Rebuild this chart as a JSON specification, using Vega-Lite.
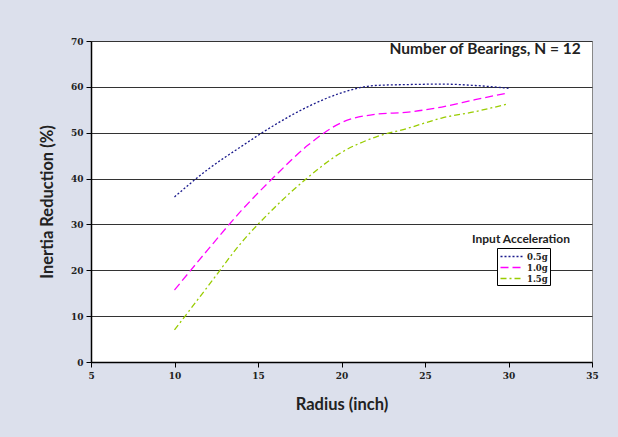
{
  "$schema": "https://vega.github.io/schema/vega-lite/v6.json",
  "width": 501,
  "height": 321,
  "autosize": {"type": "none"},
  "padding": {"left": 91, "top": 41, "right": 26, "bottom": 75},
  "background": "#DCE0EC",
  "config": {
    "view": {"fill": "white", "stroke": "#888888", "strokeWidth": 1},
    "axis": {
      "labelFont": "DejaVu Serif",
      "labelFontWeight": "bold",
      "labelFontSize": 9,
      "labelColor": "#222222",
      "titleFont": "Lato",
      "titleFontWeight": "bold",
      "titleFontSize": 16.5,
      "titleColor": "#222222",
      "domainColor": "#000000",
      "domainWidth": 1.5,
      "tickColor": "#000000",
      "tickSize": 5
    },
    "legend": {
      "orient": "none", "legendX": 406, "legendY": 207,
      "strokeColor": "#000000",
      "fillColor": "white",
      "padding": 2,
      "symbolType": "M-2,0H2",
      "symbolSize": 121,
      "symbolOffset": 6,
      "symbolStrokeWidth": 1.3,
      "labelFont": "DejaVu Serif",
      "labelFontWeight": "bold",
      "labelFontSize": 8.5,
      "labelColor": "#222222",
      "rowPadding": 0,
      "labelOffset": 9
    }
  },
  "datasets": {
    "series": [
      {"radius": 10, "reduction": 36.0, "accel": "0.5g"},
      {"radius": 12, "reduction": 42.0, "accel": "0.5g"},
      {"radius": 14, "reduction": 47.0, "accel": "0.5g"},
      {"radius": 16, "reduction": 51.7, "accel": "0.5g"},
      {"radius": 18, "reduction": 55.7, "accel": "0.5g"},
      {"radius": 20, "reduction": 58.7, "accel": "0.5g"},
      {"radius": 22, "reduction": 60.3, "accel": "0.5g"},
      {"radius": 24, "reduction": 60.5, "accel": "0.5g"},
      {"radius": 26, "reduction": 60.6, "accel": "0.5g"},
      {"radius": 28, "reduction": 60.3, "accel": "0.5g"},
      {"radius": 30, "reduction": 59.7, "accel": "0.5g"},
      {"radius": 10, "reduction": 15.7, "accel": "1.0g"},
      {"radius": 12, "reduction": 24.5, "accel": "1.0g"},
      {"radius": 14, "reduction": 33.0, "accel": "1.0g"},
      {"radius": 16, "reduction": 40.5, "accel": "1.0g"},
      {"radius": 18, "reduction": 47.3, "accel": "1.0g"},
      {"radius": 20, "reduction": 52.2, "accel": "1.0g"},
      {"radius": 22, "reduction": 54.0, "accel": "1.0g"},
      {"radius": 24, "reduction": 54.5, "accel": "1.0g"},
      {"radius": 26, "reduction": 55.6, "accel": "1.0g"},
      {"radius": 28, "reduction": 57.2, "accel": "1.0g"},
      {"radius": 30, "reduction": 58.7, "accel": "1.0g"},
      {"radius": 10, "reduction": 7.0, "accel": "1.5g"},
      {"radius": 12, "reduction": 16.5, "accel": "1.5g"},
      {"radius": 14, "reduction": 26.0, "accel": "1.5g"},
      {"radius": 16, "reduction": 33.7, "accel": "1.5g"},
      {"radius": 18, "reduction": 40.3, "accel": "1.5g"},
      {"radius": 20, "reduction": 45.7, "accel": "1.5g"},
      {"radius": 22, "reduction": 49.0, "accel": "1.5g"},
      {"radius": 24, "reduction": 51.0, "accel": "1.5g"},
      {"radius": 26, "reduction": 53.2, "accel": "1.5g"},
      {"radius": 28, "reduction": 54.6, "accel": "1.5g"},
      {"radius": 30, "reduction": 56.3, "accel": "1.5g"}
    ],
    "notes": [
      {"radius": 28.6, "reduction": 68.25, "label": "Number of Bearings, N = 12", "size": 15.5},
      {"radius": 30.75, "reduction": 26.8, "label": "Input Acceleration", "size": 12}
    ]
  },
  "layer": [
    {
      "data": {"name": "series"},
      "mark": {"type": "line", "interpolate": "monotone", "strokeWidth": 1.3, "clip": false},
      "encoding": {
        "x": {
          "field": "radius", "type": "quantitative",
          "scale": {"domain": [5, 35], "nice": false, "zero": false},
          "axis": {"values": [5, 10, 15, 20, 25, 30, 35], "grid": false, "title": "Radius (inch)", "titlePadding": 16, "labelPadding": 4, "labelFlush": false}
        },
        "y": {
          "field": "reduction", "type": "quantitative",
          "scale": {"domain": [0, 70], "nice": false},
          "axis": {"values": [0, 10, 20, 30, 40, 50, 60, 70], "grid": true, "gridColor": "#333333", "gridWidth": 1.2, "title": "Inertia Reduction (%)", "titlePadding": 15, "labelPadding": 3, "labelFlush": false}
        },
        "color": {
          "field": "accel", "type": "nominal",
          "scale": {"domain": ["0.5g", "1.0g", "1.5g"], "range": ["#1a1a8c", "#FF00FF", "#99CC00"]},
          "legend": {"title": null}
        },
        "strokeDash": {
          "field": "accel", "type": "nominal",
          "scale": {"domain": ["0.5g", "1.0g", "1.5g"], "range": [[2, 2], [8, 4], [6, 3, 2, 3]]},
          "legend": {"title": null}
        }
      }
    },
    {
      "data": {"name": "notes"},
      "mark": {"type": "text", "font": "Lato", "fontWeight": "bold", "color": "#222222", "align": "center", "baseline": "middle"},
      "encoding": {
        "x": {"field": "radius", "type": "quantitative"},
        "y": {"field": "reduction", "type": "quantitative"},
        "text": {"field": "label"},
        "size": {"field": "size", "type": "quantitative", "scale": null, "legend": null}
      }
    }
  ]
}
